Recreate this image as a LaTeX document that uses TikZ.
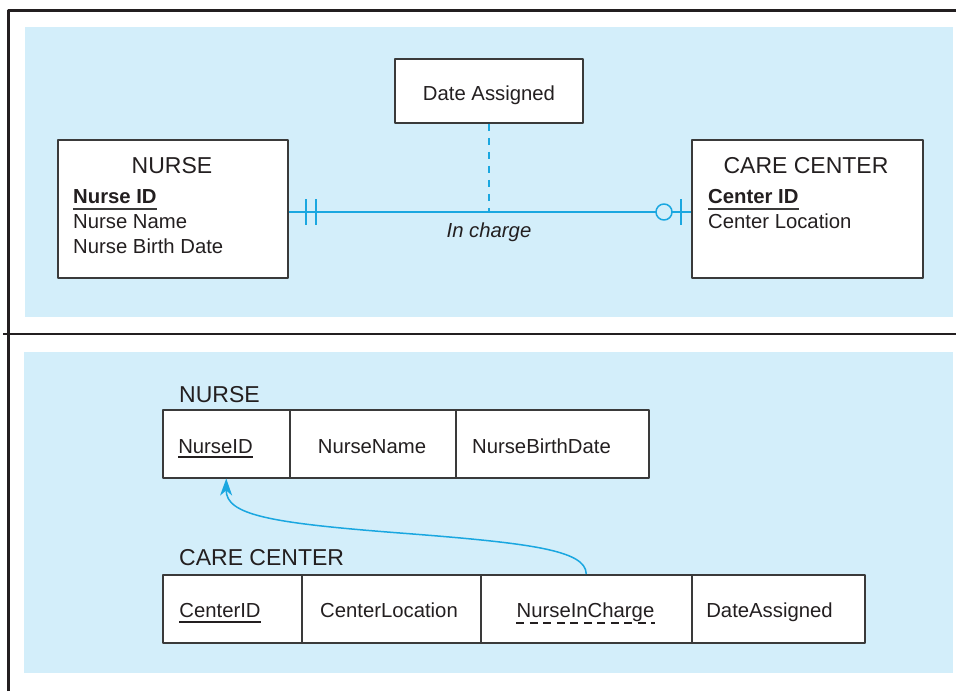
\documentclass[tikz,border=0pt]{standalone}
\usepackage{fontspec}
\setmainfont{Liberation Sans}
\usepackage{xcolor}
\usepackage{tikz}
\usetikzlibrary{arrows.meta}
\definecolor{panel}{HTML}{D3EEFA}
\definecolor{relblue}{HTML}{1AA7E0}
\definecolor{ink}{HTML}{231F20}
\definecolor{edge}{HTML}{3A3A3A}
\newcommand\bodyfont{\fontsize{20.3}{24}\selectfont}
\newcommand\titlefont{\fontsize{23}{28}\selectfont}
\tikzset{fig/.style={x=1pt,y=-1pt,line join=round},
  ent/.style={draw=edge,line width=1.5pt,fill=white,inner sep=0pt,text=ink,font=\bodyfont},
  cell/.style={ent,anchor=north west,minimum height=68pt},
  txt/.style={inner sep=0pt,anchor=base,text=ink,font=\bodyfont},
  ttl/.style={txt,font=\titlefont},
  relln/.style={relblue,line width=1.5pt}}

\begin{document}
\begin{tikzpicture}[fig]
  \useasboundingbox (0,0) rectangle (956,691);
  % panels and frame
  \fill[panel] (25,27) rectangle (953,317);
  \fill[panel] (24,352) rectangle (953,673);
  \draw[ink,line width=3pt] (8,691) -- (8,10) -- (956,10);
  \draw[ink,line width=2.2pt] (3,334) -- (956,334);
  % E-R part
  \node[ent,anchor=north west,minimum width=230pt,minimum height=138pt] (nurse) at (57,139) {};
  \node[ttl] (nursettl) at (172,173) {NURSE};
  \node[txt,anchor=base west,font=\bodyfont\bfseries] (nid) at (73,203) {Nurse ID};
  \node[txt,anchor=base west] (nname) at (73,228) {Nurse Name};
  \node[txt,anchor=base west] (nbirth) at (73,253) {Nurse Birth Date};
  \draw[edge,line width=1.6pt] ([yshift=-6pt]nid.base west) -- ([yshift=-6pt]nid.base east);
  \node[ent,anchor=north west,minimum width=231pt,minimum height=138pt] (cc) at (691,139) {};
  \node[ttl] (ccttl) at (806,173) {CARE CENTER};
  \node[txt,anchor=base west,font=\bodyfont\bfseries] (cid) at (708,203) {Center ID};
  \node[txt,anchor=base west] (cloc) at (708,228) {Center Location};
  \draw[edge,line width=1.6pt] ([yshift=-6pt]cid.base west) -- ([yshift=-6pt]cid.base east);
  \node[ent,minimum width=188pt,minimum height=64pt] (da) at (489,91) {};
  \node[txt] (dattl) at (489,100) {Date Assigned};
  \coordinate (rc) at (489,212);
  \draw[relln] (nurse.east |- rc) -- (cc.west |- rc);
  \draw[relln] (306,199) -- (306,225) (316,199) -- (316,225) (681,199) -- (681,225);
  \draw[relln,fill=panel] (664,212) circle (8pt);
  \draw[relln,dash pattern=on 7pt off 7pt] (da.south) -- (rc);
  \node[txt,font=\bodyfont\itshape] (incharge) at (489,237) {In charge};
  % relations
  \node[ttl,anchor=base west] (nursetab) at (179,402) {NURSE};
  \node[cell,minimum width=127pt] (nidc) at (162,409) {};
  \node[cell,minimum width=166pt] (nnamec) at (289,409) {};
  \node[cell,minimum width=193pt] (nbirthc) at (455,409) {};
  \node[txt] (nidt) at (215.5,453) {NurseID};
  \node[txt] (nnamet) at (372,453) {NurseName};
  \node[txt] (nbirtht) at (541.5,453) {NurseBirthDate};
  \draw[ink,line width=1.1pt] ([yshift=-4pt]nidt.base west) -- ([yshift=-4pt]nidt.base east);
  \node[ttl,anchor=base west] (cctab) at (179,565) {CARE CENTER};
  \node[cell,minimum width=139pt] (cidc) at (162,574) {};
  \node[cell,minimum width=179pt] (clocc) at (301,574) {};
  \node[cell,minimum width=211pt] (nicc) at (480,574) {};
  \node[cell,minimum width=173pt] (dac) at (691,574) {};
  \node[txt] (cidt) at (220,617) {CenterID};
  \node[txt] (cloct) at (389,617) {CenterLocation};
  \node[txt] (nict) at (585.5,617) {NurseInCharge};
  \node[txt] (dat) at (769.5,617) {DateAssigned};
  \draw[ink,line width=1.1pt] ([yshift=-5pt]cidt.base west) -- ([yshift=-5pt]cidt.base east);
  \draw[ink,line width=1.1pt,dash pattern=on 8pt off 5.5pt] ([yshift=-6pt]nict.base west) -- ([yshift=-6pt]nict.base east);
  \draw[relln,-{Stealth[length=17pt,width=12pt,inset=5pt]}] (nicc.north) .. controls (586,550) and (530,543) .. (400,533)
    .. controls (270,523) and (226,515) .. (nidc.south);
\end{tikzpicture}
\end{document}
